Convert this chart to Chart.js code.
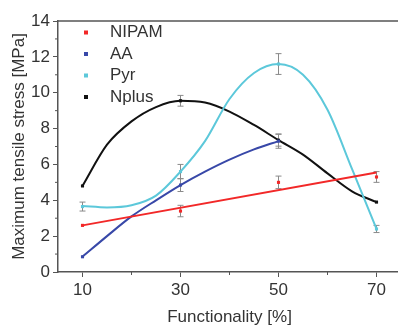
<!DOCTYPE html>
<html>
<head>
<meta charset="utf-8">
<script src="https://cdn.jsdelivr.net/npm/chart.js@4/dist/chart.umd.min.js"></script>
<style>
  html, body { margin: 0; padding: 0; background: #fff; overflow: hidden; }
</style>
</head>
<body>
<canvas id="chart1" width="405" height="325"></canvas>
<script>
/************* data ********* */
const xPoints = [10, 30, 50, 70];
const xCurve = [10, 15, 20, 25, 30, 35, 40, 45, 50, 55, 60, 65, 70];
const xTicks = [10, 30, 50, 70];
const xMinor = [20, 40, 60];
const yMinor = [1, 3, 5, 7, 9, 11, 13];

const labels = ["NIPAM", "AA", "Pyr", "Nplus"];
const colors = ['#f22828', '#3848a8', '#5cc8da', '#111111'];

// measured points and their error bars
const nipamY = [2.6, 3.4, 5.0, 5.3];
const nipamErr = [0, 0.32, 0.35, 0.3];
const aaY = [0.85, 4.85, 7.3];
const aaErr = [0, 0.36, 0.4];
const pyrY = [3.65, 5.6, 11.6, 2.4];
const pyrErr = [0.25, 0.4, 0.58, 0.2];
const nplusY = [4.8, 9.55, 7.35, 3.9];
const nplusErr = [0, 0.3, 0.33, 0];

// fitted curves
const nipamFitX = [10, 70];
const nipamFit = [2.6, 5.55];
const aaFit = [0.85, 2.0, 3.1, 4.0, 4.85, 5.6, 6.27, 6.84, 7.3];
const pyrFit = [3.68, 3.6, 3.72, 4.26, 5.6, 7.3, 9.65, 11.1, 11.6, 11.0, 9.05, 5.75, 2.4];
const nplusFit = [4.8, 7.1, 8.4, 9.2, 9.55, 9.45, 8.95, 8.2, 7.36, 6.55, 5.5, 4.5, 3.9];

const toXY = (xs, ys) => ys.map((y, i) => ({x: xs[i], y: y}));

function pointSet(i, ys, errs) {
    return {
        label: labels[i],
        data: toXY(xPoints, ys),
        errors: errs,
        isPoints: true,
        pointStyle: 'rect',
        pointRadius: 2.2,
        backgroundColor: colors[i],
        borderColor: colors[i],
        borderWidth: 0,
        showLine: false,
        order: 0
    };
}

function curveSet(i, xs, ys) {
    return {
        data: toXY(xs, ys),
        borderColor: colors[i],
        borderWidth: 2,
        pointRadius: 0,
        showLine: true,
        cubicInterpolationMode: 'monotone',
        fill: false,
        order: 1
    };
}

const axisColor = '#555';
const textColor = '#333';
const font = {family: "'Liberation Sans', Arial, sans-serif", size: 17};

/************* extras: error bars, minor ticks, frame, legend ********* */
const extras = {
    id: 'extras',
    beforeDatasetsDraw(chart) {
        const ctx = chart.ctx;
        const xs = chart.scales.x, ys = chart.scales.y;
        ctx.save();
        ctx.strokeStyle = '#8a8a8a';
        ctx.lineWidth = 1;
        chart.data.datasets.forEach(ds => {
            if (!ds.isPoints) return;
            ds.data.forEach((p, k) => {
                const e = ds.errors[k];
                if (!e) return;
                const px = xs.getPixelForValue(p.x);
                const top = ys.getPixelForValue(p.y + e);
                const bot = ys.getPixelForValue(p.y - e);
                ctx.beginPath();
                ctx.moveTo(px, top); ctx.lineTo(px, bot);
                ctx.moveTo(px - 3, top); ctx.lineTo(px + 3, top);
                ctx.moveTo(px - 3, bot); ctx.lineTo(px + 3, bot);
                ctx.stroke();
            });
        });
        ctx.restore();
    },
    afterDraw(chart) {
        const ctx = chart.ctx;
        const a = chart.chartArea;
        const xs = chart.scales.x, ys = chart.scales.y;
        ctx.save();
        ctx.strokeStyle = axisColor;
        ctx.lineWidth = 1;
        ctx.beginPath();
        xMinor.forEach(v => {
            const px = xs.getPixelForValue(v);
            ctx.moveTo(px, a.bottom); ctx.lineTo(px, a.bottom + 3);
        });
        yMinor.forEach(v => {
            const py = ys.getPixelForValue(v);
            ctx.moveTo(a.left, py); ctx.lineTo(a.left - 3, py);
        });
        ctx.stroke();
        // top frame line
        ctx.lineWidth = 1.5;
        ctx.beginPath();
        ctx.moveTo(a.left, a.top); ctx.lineTo(a.right, a.top);
        ctx.stroke();
        // legend
        ctx.font = "17px 'Liberation Sans', Arial, sans-serif";
        ctx.textBaseline = 'middle';
        chart.data.datasets.filter(d => d.isPoints).forEach((d, i) => {
            const y = a.top + 11.5 + i * 21.5;
            ctx.fillStyle = d.backgroundColor;
            ctx.fillRect(a.left + 26, y - 2, 4, 4);
            ctx.fillStyle = textColor;
            ctx.fillText(d.label, a.left + 52, y);
        });
        ctx.restore();
    }
};

/************* chart ********* */
new Chart("chart1", {
    type: "scatter",
    data: {
        datasets: [
            curveSet(0, nipamFitX, nipamFit),
            curveSet(1, xCurve.slice(0, aaFit.length), aaFit),
            curveSet(2, xCurve, pyrFit),
            curveSet(3, xCurve, nplusFit),
            pointSet(0, nipamY, nipamErr),
            pointSet(1, aaY, aaErr),
            pointSet(2, pyrY, pyrErr),
            pointSet(3, nplusY, nplusErr)
        ]
    },
    options: {
        responsive: false,
        animation: false,
        layout: {padding: {top: 21, right: 0, left: 0, bottom: 0}},
        plugins: {
            legend: {display: false},
            tooltip: {enabled: false}
        },
        scales: {
            x: {
                type: 'linear',
                min: 5,
                max: 75,
                afterBuildTicks: s => { s.ticks = xTicks.map(v => ({value: v})); },
                afterFit: s => { s.height = 53; },
                grid: {display: true, drawOnChartArea: false, drawTicks: true, tickLength: 5, tickColor: axisColor},
                border: {display: true, color: axisColor, width: 1.5},
                ticks: {color: textColor, font: font, padding: 3, maxRotation: 0},
                title: {display: true, text: 'Functionality [%]', color: textColor, font: font, padding: {top: 0, bottom: -3}}
            },
            y: {
                min: 0,
                max: 14,
                afterFit: s => { s.width = 58; },
                grid: {display: true, drawOnChartArea: false, drawTicks: true, tickLength: 5, tickColor: axisColor},
                border: {display: true, color: axisColor, width: 1.5},
                ticks: {stepSize: 2, color: textColor, font: font, padding: 3},
                title: {display: true, text: 'Maximum tensile stress [MPa]', color: textColor, font: font, padding: {top: 9, bottom: 0}}
            }
        }
    },
    plugins: [extras]
});
</script>
</body>
</html>
